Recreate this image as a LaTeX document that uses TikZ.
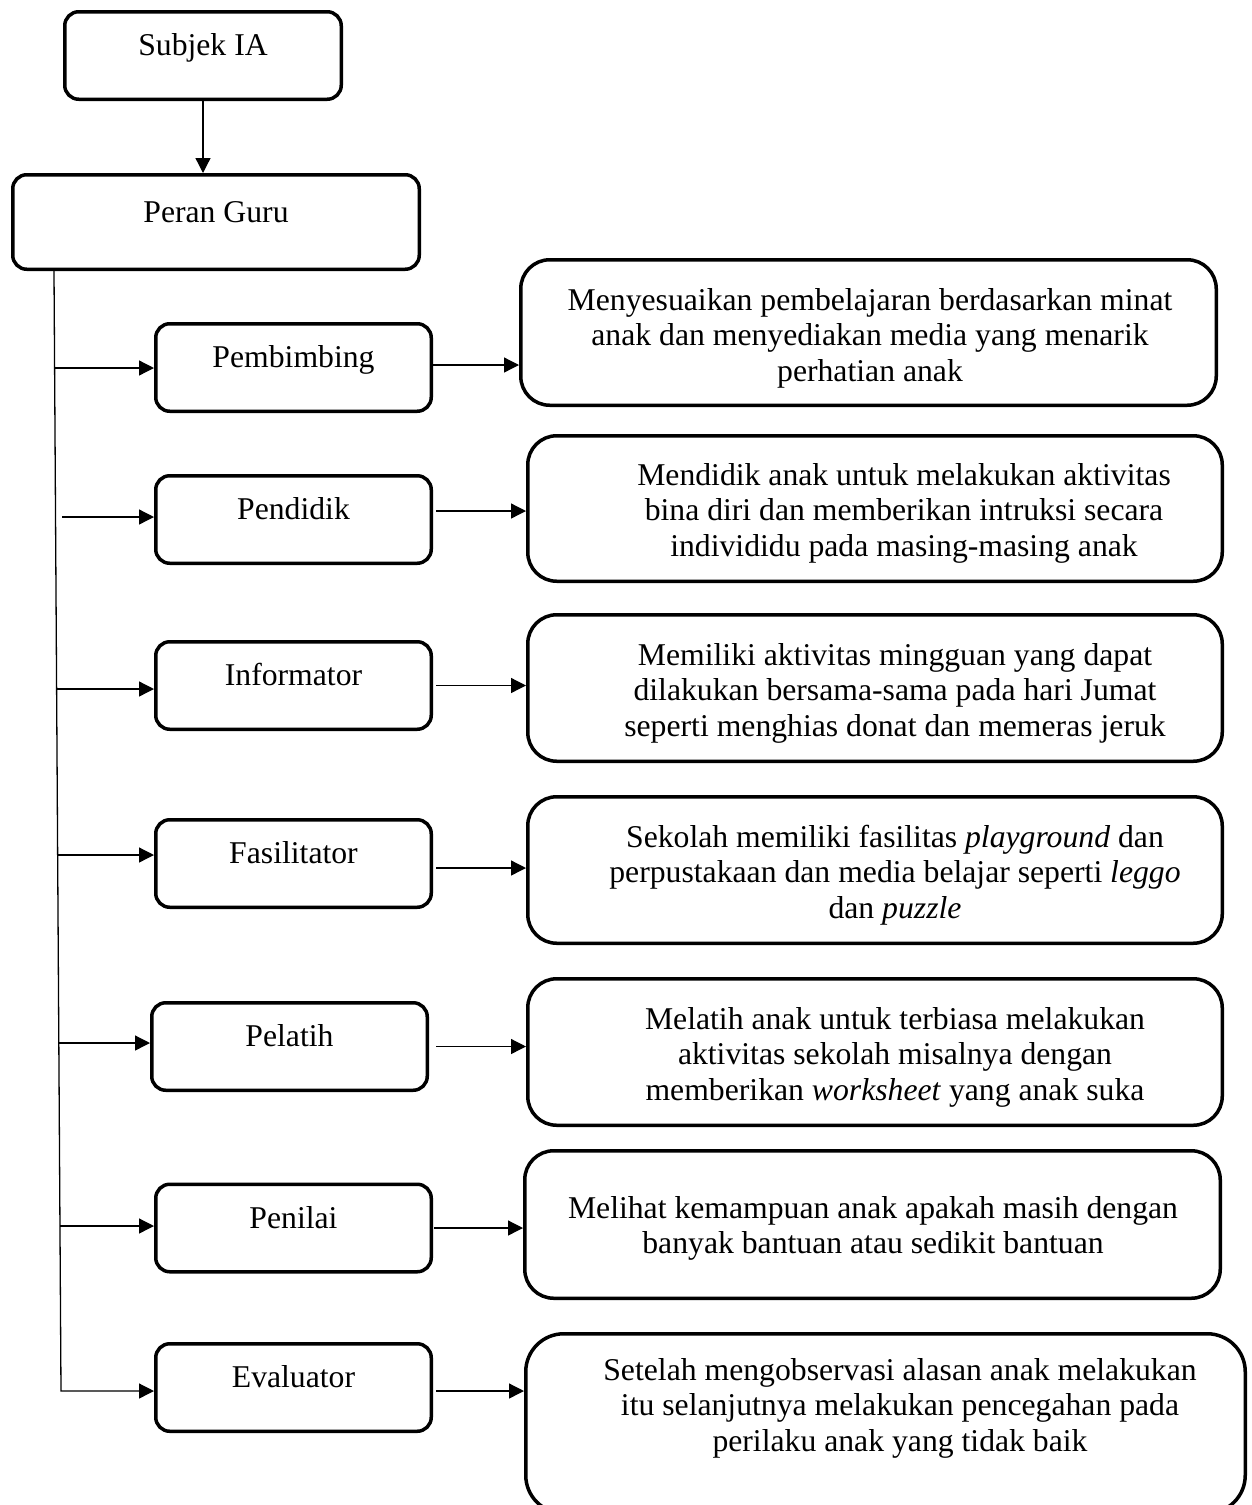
\documentclass[tikz,border=0pt]{standalone}
\usepackage{fontspec}
\setmainfont{Liberation Serif}
\usetikzlibrary{arrows.meta,calc}
\begin{document}
\begin{tikzpicture}[x=1pt,y=-1pt,
  every node/.style={font=\fontsize{31.7}{35.5}\selectfont},
  lbox/.style={draw, line width=3.5pt, rounded corners=14pt, inner sep=0pt,
    minimum width=275.5pt, minimum height=87.5pt, text height=20pt, text depth=20pt},
  rbox/.style={draw, line width=3.5pt, rounded corners=29pt, inner sep=0pt},
  txt/.style={align=center, inner sep=0pt},
  conn/.style={line width=1.3pt},
  arr/.style={line width=1.3pt, -{Triangle[length=15pt,width=15pt]}}
]
\useasboundingbox (0,0) rectangle (1251,1505);

% left column
\node[lbox, minimum width=276.5pt] (sj) at (203,55.5) {Subjek IA};
\node[lbox, minimum width=406.5pt, minimum height=94.5pt] (pg) at (216,222) {Peran Guru};
\node[lbox] (pb) at (293.5,367.5) {Pembimbing};
\node[lbox] (pd) at (293.5,519.5) {Pendidik};
\node[lbox] (inf) at (293.5,685.5) {Informator};
\node[lbox] (fa) at (293.5,863.5) {Fasilitator};
\node[lbox] (pl) at (289.5,1046.5) {Pelatih};
\node[lbox] (pn) at (293.5,1228) {Penilai};
\node[lbox] (ev) at (293.5,1387.5) {Evaluator};

% right boxes
\node[rbox, minimum width=695.5pt, minimum height=145.5pt] (rb1) at (868.5,332.5) {};
\node[rbox, minimum width=694.5pt, minimum height=145.5pt] (rb2) at (875,508.5) {};
\node[rbox, minimum width=694.5pt, minimum height=146.5pt] (rb3) at (875,688) {};
\node[rbox, minimum width=694.5pt, minimum height=146.5pt] (rb4) at (875,870) {};
\node[rbox, minimum width=694.5pt, minimum height=146.5pt] (rb5) at (875,1052) {};
\node[rbox, minimum width=695.5pt, minimum height=147.5pt] (rb6) at (872.5,1224.5) {};
\node[rbox, rounded corners=38pt, minimum width=719.5pt, minimum height=179.5pt] (rb7) at (885.5,1423.5) {};

% right texts
\node[txt] (t1) at (870,338) {Menyesuaikan pembelajaran berdasarkan minat\\anak dan menyediakan media yang menarik\\perhatian anak};
\node[txt] (t2) at (904,513) {Mendidik anak untuk melakukan aktivitas\\bina diri dan memberikan intruksi secara\\individidu pada masing-masing anak};
\node[txt] (t3) at (895,693) {Memiliki aktivitas mingguan yang dapat\\dilakukan bersama-sama pada hari Jumat\\seperti menghias donat dan memeras jeruk};
\node[txt] (t4) at (895,875) {Sekolah memiliki fasilitas \textit{playground} dan\\perpustakaan dan media belajar seperti \textit{leggo}\\dan \textit{puzzle}};
\node[txt] (t5) at (895,1057) {Melatih anak untuk terbiasa melakukan\\aktivitas sekolah misalnya dengan\\memberikan \textit{worksheet} yang anak suka};
\node[txt] (t6) at (873,1228.5) {Melihat kemampuan anak apakah masih dengan\\banyak bantuan atau sedikit bantuan};
\node[txt] (t7) at (900,1408) {Setelah mengobservasi alasan anak melakukan\\itu selanjutnya melakukan pencegahan pada\\perilaku anak yang tidak baik};

% top arrow
\draw[arr] (sj.south) -- (sj.south |- pg.north);

% trunk
\coordinate (top) at (54,271);
\coordinate (c7) at (61,1391);
\draw[arr] (top) -- (c7) -- (c7 -| ev.west);

% branch starts
\coordinate (l1) at (54.6,368);
\coordinate (l2) at (62,517);
\coordinate (l3) at (56.6,689);
\coordinate (l4) at (57.7,855);
\coordinate (l5) at (58.8,1043);
\coordinate (l6) at (60,1226);
\draw[arr] (l1) -- (l1 -| pb.west);
\draw[arr] (l2) -- (l2 -| pd.west);
\draw[arr] (l3) -- (l3 -| inf.west);
\draw[arr] (l4) -- (l4 -| fa.west);
\draw[arr] (l5) -- (l5 -| pl.west);
\draw[arr] (l6) -- (l6 -| pn.west);

% right arrows
\coordinate (r1) at ([yshift=2.5pt]pb.east);
\coordinate (r2) at ([xshift=3pt,yshift=8.5pt]pd.east);
\coordinate (r3) at ([xshift=3pt]inf.east);
\coordinate (r4) at ([xshift=3pt,yshift=-4.5pt]fa.east);
\coordinate (r5) at ([xshift=7pt]pl.east);
\coordinate (r6) at ([xshift=1pt]pn.east);
\coordinate (r7) at ([xshift=3pt,yshift=-3.5pt]ev.east);
\draw[arr] (r1) -- (r1 -| rb1.west);
\draw[arr] (r2) -- (r2 -| rb2.west);
\draw[arr] (r3) -- (r3 -| rb3.west);
\draw[arr] (r4) -- (r4 -| rb4.west);
\draw[arr] (r5) -- (r5 -| rb5.west);
\draw[arr] (r6) -- (r6 -| rb6.west);
\draw[arr] (r7) -- (r7 -| rb7.west);
\end{tikzpicture}
\end{document}
